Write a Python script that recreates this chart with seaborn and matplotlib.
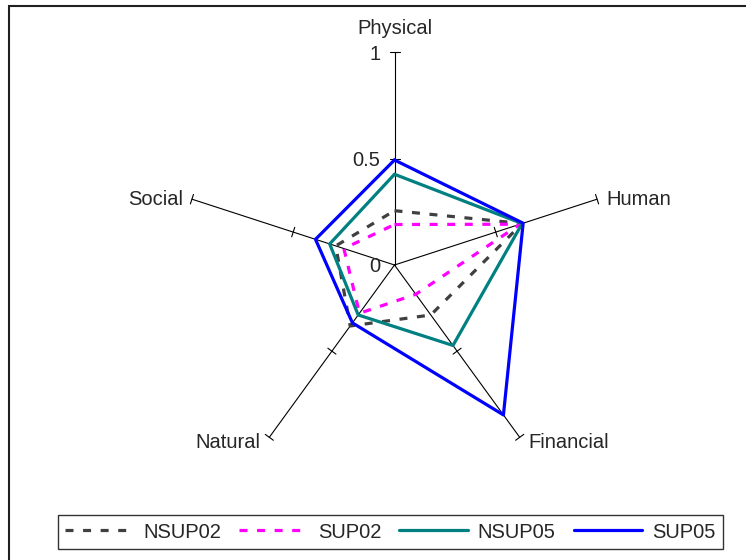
import numpy as np
import pandas as pd
import seaborn as sns
import matplotlib.pyplot as plt
from matplotlib.patches import Rectangle

axes_names = ['Physical', 'Human', 'Financial', 'Natural', 'Social']

nsup02 = [0.255, 0.63, 0.29, 0.354, 0.29]
sup02 = [0.19, 0.62, 0.17, 0.28, 0.25]
nsup05 = [0.426, 0.63, 0.467, 0.29, 0.32]
sup05 = [0.493, 0.635, 0.87, 0.336, 0.39]

series = {'NSUP02': nsup02, 'SUP02': sup02, 'NSUP05': nsup05, 'SUP05': sup05}
colors = {'NSUP02': '#404040', 'SUP02': '#ff00ff', 'NSUP05': '#008080', 'SUP05': '#0000ff'}
dashed = {'NSUP02': True, 'SUP02': True, 'NSUP05': False, 'SUP05': False}

tick_vals = [0, 0.5, 1]
tick_labels = ['0', '0.5', '1']

sns.set_theme(style='white')
plt.rcParams['font.family'] = ['Liberation Sans', 'DejaVu Sans']

W, H = 746, 560
cx, cy, R = 394.5, 265, 213
fig = plt.figure(figsize=(W / 100, H / 100), dpi=100)
ax = fig.add_axes([0, 0, 1, 1])
ax.set_xlim(-cx / R, (W - cx) / R)
ax.set_ylim(-(H - cy) / R, cy / R)
ax.axis('off')

n = len(axes_names)
angles = np.pi / 2 - 2 * np.pi * np.arange(n) / n  # clockwise from top

fs = 14.5


def to_xy(vals):
    v = np.asarray(vals + vals[:1], dtype=float)
    a = np.append(angles, angles[0])
    return v * np.cos(a), v * np.sin(a)


# spokes, tick marks, category labels
for i, a in enumerate(angles):
    ux, uy = np.cos(a), np.sin(a)
    ax.plot([0, ux], [0, uy], color='black', lw=0.8, zorder=1)
    px, py = -uy, ux
    for t in [0.5, 1.0]:
        h = 5 / R
        ax.plot([t * ux - h * px, t * ux + h * px], [t * uy - h * py, t * uy + h * py],
                color='black', lw=0.8, zorder=1)
    if i == 0:
        ax.text(0, 1 + 25 / R, axes_names[i], ha='center', va='center_baseline', fontsize=fs)
        continue
    dx = 9 / R if ux > 0 else -9 / R
    dy = 2 / R if uy > 0 else -3 / R
    ax.text(ux + dx, uy + dy, axes_names[i], ha='left' if ux > 0 else 'right',
            va='center_baseline', fontsize=fs)

for v, lab in zip(tick_vals, tick_labels):
    ax.text(-14 / R, v, lab, ha='right', va='center_baseline', fontsize=fs)

handles = []
for name, vals in series.items():
    x, y = to_xy(vals)
    df = pd.DataFrame({'x': x, 'y': y})
    sns.lineplot(data=df, x='x', y='y', sort=False, ax=ax, color=colors[name],
                 lw=2.3, zorder=3, estimator=None, legend=False)
    line = ax.lines[-1]
    if dashed[name]:
        line.set_dashes((2.5, 3))
    line.set_label(name)
    handles.append(line)

if ax.get_legend() is not None:
    ax.get_legend().remove()

leg = fig.legend(handles=handles, loc='center', bbox_to_anchor=(0.523, 0.05), ncol=4,
                 fontsize=fs, frameon=True, fancybox=False, handlelength=3.4,
                 handletextpad=0.5, columnspacing=0.9, borderpad=0.35, borderaxespad=0)
leg.get_frame().set_edgecolor('black')
leg.get_frame().set_linewidth(1.0)

fig.patches.append(Rectangle((9 / W, -0.1), 1.2, 1.1 - 6 / H, transform=fig.transFigure,
                             fill=False, edgecolor='#202020', lw=1.5))

fig.savefig('out.png', dpi=100)
